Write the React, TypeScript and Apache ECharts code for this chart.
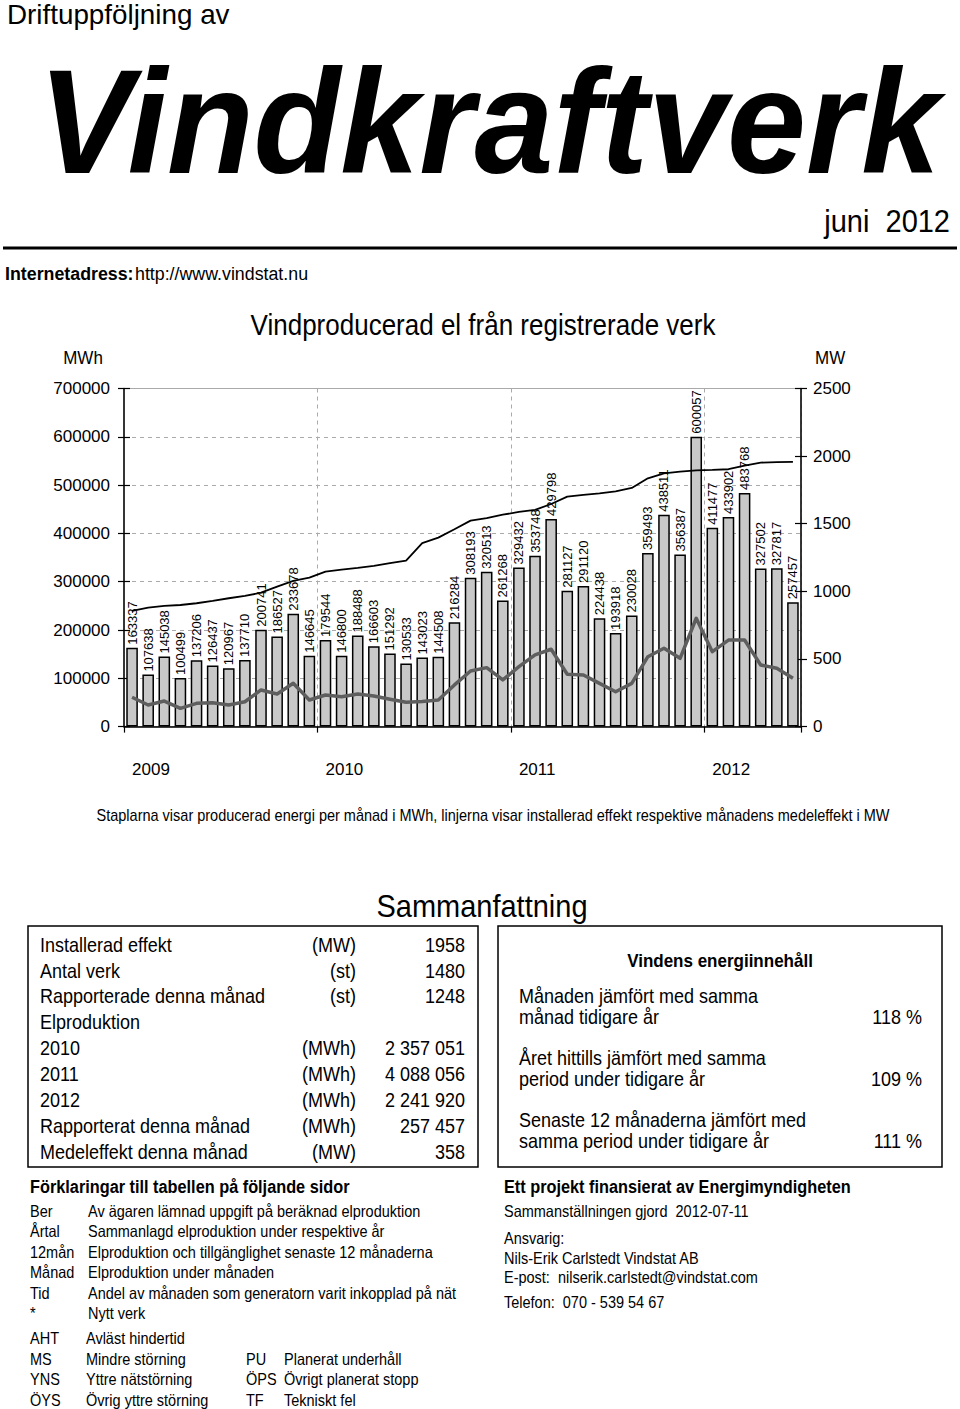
import React, { useEffect, useRef } from "react";
import * as echarts from "echarts";

const FONT = "'Liberation Sans', Arial, Helvetica, sans-serif";

const months = [
  "2009-01","2009-02","2009-03","2009-04","2009-05","2009-06","2009-07","2009-08","2009-09","2009-10","2009-11","2009-12",
  "2010-01","2010-02","2010-03","2010-04","2010-05","2010-06","2010-07","2010-08","2010-09","2010-10","2010-11","2010-12",
  "2011-01","2011-02","2011-03","2011-04","2011-05","2011-06","2011-07","2011-08","2011-09","2011-10","2011-11","2011-12",
  "2012-01","2012-02","2012-03","2012-04","2012-05","2012-06",
];
const yearLabels = ["2009", "2010", "2011", "2012"];

// MWh per month (bars)
const energyMWh = [
  163337, 107638, 145038, 100499, 137206, 126437, 120967, 137710, 200741, 186527, 233678, 146645,
  179544, 146800, 188488, 166603, 151292, 130533, 143023, 144508, 216284, 308193, 320513, 261268,
  329432, 353748, 429798, 281127, 291120, 224438, 193918, 230028, 359493, 438511, 356387, 600057,
  411477, 433902, 483768, 327502, 327817, 257457,
];
// installed capacity, MW (black line)
const installedMW = [
  855, 879, 892, 899, 912, 929, 949, 966, 990, 1035, 1077, 1101,
  1146, 1160, 1173, 1188, 1208, 1227, 1356, 1397, 1459, 1523, 1541, 1567,
  1587, 1602, 1646, 1700, 1713, 1725, 1740, 1765, 1836, 1873, 1885, 1895,
  1898, 1903, 1930, 1952, 1956, 1958,
];
// monthly mean power, MW (grey line)
const meanMW = [
  217, 160, 189, 135, 172, 177, 160, 184, 271, 241, 320, 197,
  234, 221, 241, 226, 202, 180, 185, 197, 308, 411, 436, 345,
  443, 530, 572, 387, 382, 320, 258, 320, 517, 579, 505, 801,
  554, 640, 640, 456, 431, 357,
];
const leftTicks = { min: 0, max: 700000, interval: 100000 };
const rightTicks = { min: 0, max: 2500, interval: 500 };

const summaryRows = [
  ["Installerad effekt", "(MW)", "1958"],
  ["Antal verk", "(st)", "1480"],
  ["Rapporterade denna månad", "(st)", "1248"],
  ["Elproduktion", "", ""],
  ["2010", "(MWh)", "2 357 051"],
  ["2011", "(MWh)", "4 088 056"],
  ["2012", "(MWh)", "2 241 920"],
  ["Rapporterat denna månad", "(MWh)", "257 457"],
  ["Medeleffekt denna månad", "(MW)", "358"],
];
const windRows = [
  ["Månaden jämfört med samma", "månad tidigare år", "118 %"],
  ["Året hittills jämfört med samma", "period under tidigare år", "109 %"],
  ["Senaste 12 månaderna jämfört med", "samma period under tidigare år", "111 %"],
];
const legendRows = [
  ["Ber", "Av ägaren lämnad uppgift på beräknad elproduktion"],
  ["Årtal", "Sammanlagd elproduktion under respektive år"],
  ["12mån", "Elproduktion och tillgänglighet senaste 12 månaderna"],
  ["Månad", "Elproduktion under månaden"],
  ["Tid", "Andel av månaden som generatorn varit inkopplad på nät"],
  ["*", "Nytt verk"],
];
const legendRows2 = [
  ["AHT", "Avläst hindertid", "", ""],
  ["MS", "Mindre störning", "PU", "Planerat underhåll"],
  ["YNS", "Yttre nätstörning", "ÖPS", "Övrigt planerat stopp"],
  ["ÖYS", "Övrig yttre störning", "TF", "Tekniskt fel"],
];
const contactRows = [
  "Sammanställningen gjord  2012-07-11",
  "Ansvarig:",
  "Nils-Erik Carlstedt Vindstat AB",
  "E-post:  nilserik.carlstedt@vindstat.com",
  "Telefon:  070 - 539 54 67",
];

type TOpt = { bold?: boolean; italic?: boolean; align?: string; sy?: number; fill?: string };
const T = (x: number, y: number, text: string, fontSize: number, o: TOpt = {}) => ({
  type: "text",
  x,
  y,
  scaleY: o.sy ?? 1.08,
  silent: true,
  style: {
    text,
    fontSize,
    fontFamily: FONT,
    fontWeight: o.bold ? "bold" : "normal",
    fontStyle: o.italic ? "italic" : "normal",
    fill: o.fill ?? "#000",
    align: o.align ?? "left",
    textAlign: o.align ?? "left",
    verticalAlign: "middle",
    textVerticalAlign: "middle",
  },
});

function buildGraphics() {
  const g: any[] = [];
  // header
  g.push(T(7, 14, "Driftuppföljning av", 27.8, { sy: 1.0 }));
  g.push(T(38, 121, "Vindkraftverk", 142, { bold: true, italic: true, sy: 1.05 }));
  g.push(T(950, 221, "juni  2012", 29, { align: "right", sy: 1.08 }));
  g.push({ type: "rect", shape: { x: 3, y: 246.5, width: 954, height: 3 }, style: { fill: "#000" }, silent: true });
  g.push(T(5, 273, "Internetadress:", 17.8, { bold: true }));
  g.push(T(135, 273, "http://www.vindstat.nu", 17.8));

  // chart texts
  g.push(T(483, 325, "Vindproducerad el från registrerade verk", 26, { align: "center", sy: 1.1 }));
  g.push(T(83, 358, "MWh", 17, { align: "center" }));
  g.push(T(815, 358, "MW", 17));
  g.push(
    T(493, 815, "Staplarna visar producerad energi per månad i MWh, linjerna visar installerad effekt respektive månadens medeleffekt i MW", 14.5, {
      align: "center",
      sy: 1.1,
    })
  );

  // summary
  g.push(T(482, 905, "Sammanfattning", 29, { align: "center", sy: 1.1 }));
  g.push({ type: "rect", shape: { x: 28, y: 926, width: 450, height: 241 }, style: { fill: "none", stroke: "#000", lineWidth: 1.5 }, silent: true });
  g.push({ type: "rect", shape: { x: 498, y: 926, width: 444, height: 241 }, style: { fill: "none", stroke: "#000", lineWidth: 1.5 }, silent: true });
  summaryRows.forEach((r, i) => {
    const y = 945 + i * 25.85;
    g.push(T(40, y, r[0], 18));
    if (r[1]) g.push(T(356, y, r[1], 18, { align: "right" }));
    if (r[2]) g.push(T(465, y, r[2], 18, { align: "right" }));
  });
  g.push(T(720, 961, "Vindens energiinnehåll", 17, { align: "center", bold: true }));
  windRows.forEach((r, i) => {
    const y1 = 996 + i * 62;
    g.push(T(519, y1, r[0], 18));
    g.push(T(519, y1 + 21, r[1], 18));
    g.push(T(922, y1 + 21, r[2], 18, { align: "right" }));
  });

  // explanations
  g.push(T(30, 1187, "Förklaringar till tabellen på följande sidor", 16.3, { bold: true }));
  legendRows.forEach((r, i) => {
    const y = 1211 + i * 20.5;
    g.push(T(30, y, r[0], 14.5));
    g.push(T(88, y, r[1], 14.5));
  });
  legendRows2.forEach((r, i) => {
    const y = 1338.5 + i * 20.6;
    g.push(T(30, y, r[0], 14.5));
    g.push(T(86, y, r[1], 14.5));
    if (r[2]) g.push(T(246, y, r[2], 14.5));
    if (r[3]) g.push(T(284, y, r[3], 14.5));
  });
  g.push(T(504, 1187, "Ett projekt finansierat av Energimyndigheten", 16.3, { bold: true }));
  const cy = [1211, 1238, 1258, 1277.5, 1302.5];
  contactRows.forEach((t, i) => g.push(T(504, cy[i], t, 14.5)));
  return g;
}

export default function App() {
  const ref = useRef<HTMLDivElement>(null);
  useEffect(() => {
    if (!ref.current) return;
    const chart = echarts.init(ref.current, null, { renderer: "svg" });
    const gridLine = { color: "#aaaaaa", type: [4, 4], width: 1 };
    const axisBase = (pos: string, t: any, margin: number) => ({
      type: "value",
      position: pos,
      min: t.min,
      max: t.max,
      interval: t.interval,
      axisLine: { show: true, lineStyle: { color: "#000", width: 1.5 } },
      axisTick: { show: true, length: 6, lineStyle: { color: "#000", width: 1.2 } },
      axisLabel: { fontSize: 17, color: "#000", margin, fontFamily: FONT, formatter: (v: number) => String(v) },
      splitLine: { show: false },
    });
    const innerTicks = (pos: string, t: any) => ({
      type: "value",
      position: pos,
      min: t.min,
      max: t.max,
      interval: t.interval,
      axisLine: { show: false },
      axisTick: { show: true, inside: true, length: 6, lineStyle: { color: "#000", width: 1.2 } },
      axisLabel: { show: false },
      splitLine: { show: false },
    });
    const left: any = axisBase("left", leftTicks, 14);
    left.splitLine = { show: true, lineStyle: gridLine };
    chart.setOption({
      animation: false,
      backgroundColor: "#fff",
      textStyle: { fontFamily: FONT },
      grid: { left: 124, right: 159, top: 388.5, bottom: 682.4, show: true, borderColor: "#aaaaaa", borderWidth: 1 },
      xAxis: [
        {
          type: "category",
          data: months,
          boundaryGap: true,
          axisLine: { lineStyle: { color: "#000", width: 1.5 } },
          axisTick: { show: true, interval: (i: number) => i % 12 === 0, length: 6, lineStyle: { color: "#000", width: 1.2 } },
          axisLabel: {
            interval: (i: number) => i % 12 === 0,
            formatter: (_v: string, i: number) => yearLabels[Math.floor(i / 12)],
            margin: 34,
            fontSize: 17,
            color: "#000",
            align: "left",
            fontFamily: FONT,
          },
          splitLine: { show: true, interval: (i: number) => i % 12 === 0 && i > 0, lineStyle: gridLine },
        },
      ],
      yAxis: [left, axisBase("right", rightTicks, 12), innerTicks("left", leftTicks), innerTicks("right", rightTicks)],
      series: [
        {
          type: "bar",
          yAxisIndex: 0,
          data: energyMWh,
          barWidth: 11.6,
          itemStyle: { color: "#c8c8c8", borderColor: "#000", borderWidth: 1.5 },
          label: {
            show: true,
            position: "top",
            rotate: 90,
            align: "left",
            verticalAlign: "middle",
            distance: 3,
            fontSize: 13,
            color: "#000",
            fontFamily: FONT,
            formatter: (p: any) => String(p.value),
          },
          z: 2,
        },
        {
          type: "line",
          yAxisIndex: 1,
          data: installedMW,
          symbol: "none",
          lineStyle: { color: "#000", width: 1.8 },
          z: 4,
        },
        {
          type: "line",
          yAxisIndex: 1,
          data: meanMW,
          symbol: "none",
          lineStyle: { color: "#5e5e5e", width: 3.5, join: "round" },
          z: 3,
        },
      ],
      graphic: { elements: buildGraphics() },
    });
    return () => chart.dispose();
  }, []);
  return <div ref={ref} style={{ position: "absolute", left: 0, top: 0, width: 960, height: 1409 }} />;
}
